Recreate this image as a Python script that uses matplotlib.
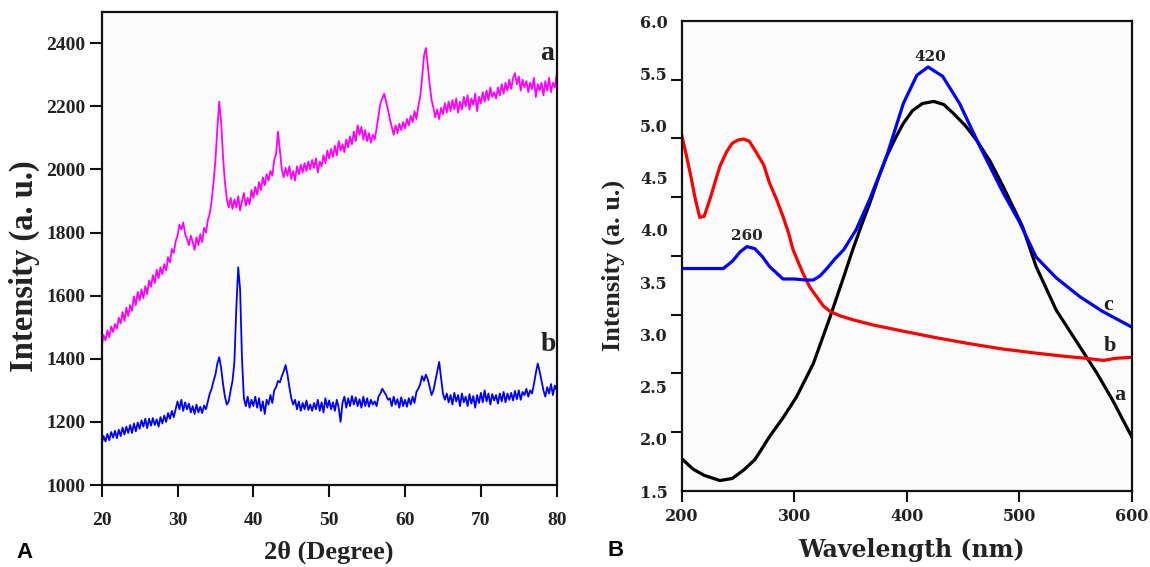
import numpy as np
import matplotlib
matplotlib.use("Agg")
import matplotlib.pyplot as plt
from matplotlib.ticker import FixedLocator

# ---------------- data: panel A (XRD) ----------------
two_theta = np.arange(20.0, 80.01, 0.25)

xrd_a = [
    1440, 1475, 1458, 1490, 1468, 1502, 1485, 1510,
    1495, 1530, 1512, 1548, 1520, 1562, 1535, 1570,
    1552, 1598, 1570, 1612, 1585, 1620, 1592, 1630,
    1605, 1648, 1628, 1665, 1640, 1682, 1655, 1690,
    1668, 1700, 1680, 1722, 1705, 1748, 1735, 1772,
    1790, 1825, 1810, 1832, 1795, 1780, 1760, 1790,
    1770, 1745, 1785, 1760, 1795, 1770, 1815, 1800,
    1840, 1860, 1900, 1960, 2030, 2130, 2215, 2150,
    2040, 1960, 1905, 1880, 1910, 1875, 1905, 1880,
    1915, 1870, 1900, 1925, 1885, 1910, 1890, 1935,
    1910, 1945, 1920, 1960, 1935, 1975, 1950, 1985,
    1965, 1995, 1980, 2030, 2050, 2120, 2060, 2000,
    1975, 2005, 1980, 2010, 1970, 1995, 1965, 2010,
    1985, 2015, 1990, 2020, 1995, 2025, 2000, 2030,
    2005, 2035, 1990, 2025, 2010, 2045, 2020, 2060,
    2035, 2065, 2040, 2075, 2045, 2090, 2060, 2080,
    2055, 2095, 2070, 2105, 2080, 2120, 2090, 2140,
    2110, 2135, 2095, 2125, 2090, 2115, 2085, 2110,
    2095, 2130, 2170, 2210, 2225, 2240, 2215, 2190,
    2160, 2135, 2110, 2140, 2115, 2145, 2125, 2150,
    2130, 2160, 2140, 2170, 2150, 2185, 2160, 2200,
    2230, 2290, 2360, 2385, 2330, 2270, 2220, 2195,
    2165, 2190, 2160, 2195, 2175, 2210, 2180, 2215,
    2185, 2220, 2190, 2225, 2180, 2215, 2190, 2230,
    2200, 2235, 2190, 2225, 2205, 2240, 2185, 2230,
    2210, 2245, 2215, 2250, 2220, 2260, 2230, 2245,
    2225, 2260, 2235, 2270, 2240, 2275, 2250, 2285,
    2255, 2290, 2305, 2270, 2295, 2250, 2285, 2260,
    2280, 2245, 2275, 2255, 2290, 2230, 2270, 2250,
    2275, 2235, 2280, 2250, 2290, 2245, 2275, 2260,
    2300,
]

xrd_b = [
    1130, 1155, 1138, 1162, 1142, 1168, 1150, 1172,
    1148, 1175, 1155, 1182, 1160, 1185, 1165, 1190,
    1165, 1195, 1170, 1198, 1178, 1205, 1185, 1210,
    1180, 1210, 1188, 1212, 1190, 1208, 1185, 1215,
    1195, 1220, 1200, 1228, 1210, 1235, 1215, 1240,
    1265, 1240, 1270, 1235, 1262, 1240, 1258, 1230,
    1250, 1225, 1255, 1230, 1248, 1228, 1252, 1240,
    1265, 1290, 1305, 1330, 1350, 1385, 1405, 1370,
    1320, 1280, 1255, 1265, 1300, 1330, 1390, 1560,
    1690, 1620, 1400, 1275, 1250, 1280, 1245, 1270,
    1250, 1280, 1245, 1275, 1235, 1265, 1225, 1270,
    1255, 1285, 1260, 1300, 1310, 1330, 1325, 1345,
    1360, 1380, 1350, 1310, 1275, 1255, 1270, 1240,
    1265, 1235, 1260, 1240, 1268, 1238, 1255, 1235,
    1260, 1240, 1270, 1235, 1262, 1230, 1275, 1245,
    1268, 1240, 1262, 1235, 1270, 1245, 1200, 1260,
    1280, 1245, 1275, 1250, 1282, 1255, 1278, 1250,
    1272, 1245, 1280, 1250, 1275, 1248, 1270, 1255,
    1265, 1250, 1280, 1290, 1305, 1295, 1285, 1270,
    1275, 1250, 1280, 1255, 1272, 1245, 1278, 1250,
    1270, 1248, 1275, 1255, 1280, 1260, 1295, 1305,
    1320, 1345, 1330, 1350, 1335, 1310, 1285, 1300,
    1330, 1360, 1390, 1340, 1290, 1270, 1290, 1262,
    1285, 1255, 1292, 1265, 1285, 1250, 1290, 1262,
    1280, 1250, 1288, 1258, 1282, 1245, 1285, 1260,
    1292, 1262, 1300, 1265, 1290, 1255, 1288, 1268,
    1285, 1258, 1290, 1265, 1295, 1262, 1290, 1270,
    1292, 1268, 1298, 1272, 1300, 1270, 1295, 1285,
    1305, 1280, 1300, 1290, 1320, 1355, 1385, 1360,
    1330, 1300, 1280, 1310, 1290, 1320, 1285, 1315,
    1300,
]

xrd_xticks = [20, 30, 40, 50, 60, 70, 80]
xrd_yticks = [1000, 1200, 1400, 1600, 1800, 2000, 2200, 2400]

# ---------------- data: panel B (UV-vis) ----------------
wl_a = [200, 210, 220, 234, 245, 255, 265, 271, 278, 290, 302, 317, 332, 344,
        352, 360, 367, 375, 382, 390, 397, 405, 414, 424, 433, 441, 452, 462,
        474, 486, 503, 515, 533, 554, 569, 583, 600]
uv_a = [1.81, 1.71, 1.65, 1.60, 1.62, 1.70, 1.80, 1.90, 2.02, 2.20, 2.40, 2.72,
        3.17, 3.55, 3.81, 4.05, 4.25, 4.50, 4.70, 4.88, 5.02, 5.14, 5.21, 5.23,
        5.20, 5.12, 5.00, 4.86, 4.66, 4.41, 4.03, 3.65, 3.23, 2.88, 2.63, 2.37,
        2.02]

wl_c = [200, 212, 225, 237, 245, 252, 258, 265, 272, 278, 285, 290, 300, 310,
        317, 323, 329, 336, 344, 355, 367, 382, 397, 409, 419, 432, 447, 465,
        486, 500, 515, 533, 554, 574, 600]
uv_c = [3.63, 3.63, 3.63, 3.63, 3.70, 3.79, 3.84, 3.82, 3.74, 3.65, 3.58, 3.53,
        3.53, 3.52, 3.52, 3.56, 3.63, 3.72, 3.81, 4.00, 4.29, 4.70, 5.21, 5.48,
        5.56, 5.47, 5.21, 4.80, 4.35, 4.08, 3.74, 3.54, 3.36, 3.22, 3.07]

wl_b = [200, 204, 208, 212, 216, 220, 225, 230, 234, 240, 245, 250, 255, 260,
        267, 273, 278, 284, 290, 295, 299, 304, 308, 314, 320, 326, 332, 340,
        352, 370, 397, 425, 456, 485, 515, 540, 560, 575, 585, 600]
uv_b = [4.91, 4.72, 4.52, 4.30, 4.12, 4.13, 4.29, 4.47, 4.61, 4.75, 4.83, 4.86,
        4.87, 4.85, 4.73, 4.62, 4.45, 4.30, 4.13, 3.97, 3.81, 3.68, 3.58, 3.45,
        3.36, 3.27, 3.22, 3.18, 3.14, 3.09, 3.03, 2.97, 2.91, 2.86, 2.82, 2.79,
        2.77, 2.75, 2.77, 2.78]

uv_xticks = [200, 300, 400, 500, 600]
uv_yticks = [1.5, 2.0, 2.5, 3.0, 3.5, 4.0, 4.5, 5.0, 5.5, 6.0]
uv_yticklabels = ["1.5", "2.0", "2.5", "3.0", "3.5", "4.0", "4.5", "5.0", "5.5", "6.0"]
uv_tickmarks = list(np.linspace(1.5, 6.0, 9))

# ---------------- figure ----------------
W, H = 1150, 567
fig = plt.figure(figsize=(W / 100, H / 100), dpi=100)

serif_n = "Liberation Serif"
serif_w = "DejaVu Serif"

axA = fig.add_axes([101.7 / W, (H - 485) / H, 455 / W, 473.3 / H])
axB = fig.add_axes([681.7 / W, (H - 491) / H, 450 / W, 470 / H])

for ax in (axA, axB):
    ax.set_facecolor("#fbfbfb")
    for sp in ax.spines.values():
        sp.set_linewidth(1.6)
        sp.set_color("#111111")

# ---- panel A
axA.plot(two_theta, xrd_a, color="#ff00ff", lw=1.3)
axA.plot(two_theta, xrd_b, color="#0000ff", lw=1.3)
axA.set_xlim(20, 80)
axA.set_ylim(1000, 2500)
axA.set_xticks(xrd_xticks)
axA.set_yticks(xrd_yticks)
axA.tick_params(axis="both", direction="out", length=8.5, width=1.5, color="#111111")
axA.tick_params(axis="x", pad=11)
axA.tick_params(axis="y", pad=3)
for lab in axA.get_xticklabels() + axA.get_yticklabels():
    lab.set_fontfamily(serif_n)
    lab.set_fontweight("bold")
    lab.set_fontsize(14)
    lab.set_color("#222222")

axA.set_xlabel("2θ (Degree)", fontfamily=serif_n, fontweight="bold", fontsize=19, color="#222222")
axA.xaxis.set_label_coords(0.5, -0.1416)
axA.xaxis.label.set_va("center")
axA.set_ylabel("Intensity (a. u.)", fontfamily=serif_n, fontweight="bold", fontsize=23.5, color="#222222")
axA.yaxis.set_label_coords(-0.171, 0.463)
axA.yaxis.label.set_va("center")

axA.text(78.7, 2368, "a", fontfamily=serif_n, fontweight="bold", fontsize=20,
         ha="center", va="center", color="#222222")
axA.text(78.9, 1444, "b", fontfamily=serif_n, fontweight="bold", fontsize=20,
         ha="center", va="center", color="#222222")

# ---- panel B
axB.plot(wl_a, uv_a, color="#000000", lw=2.3)
axB.plot(wl_b, uv_b, color="#ff0000", lw=2.3)
axB.plot(wl_c, uv_c, color="#0000ff", lw=2.3)
axB.set_xlim(200, 600)
axB.set_ylim(1.5, 6.0)
axB.set_xticks(uv_xticks)
axB.set_yticks(uv_yticks)
axB.set_yticklabels(uv_yticklabels)
axB.yaxis.set_minor_locator(FixedLocator(uv_tickmarks))
axB.tick_params(axis="x", direction="out", length=8, width=1.5, pad=4, color="#111111")
axB.tick_params(axis="y", which="major", length=0, pad=10)
axB.tick_params(axis="y", which="minor", direction="out", length=8, width=1.5, color="#111111")
for lab in axB.get_xticklabels() + axB.get_yticklabels():
    lab.set_fontfamily(serif_w)
    lab.set_fontweight("bold")
    lab.set_fontsize(11.5)
    lab.set_color("#222222")

axB.set_xlabel("Wavelength (nm)", fontfamily=serif_w, fontweight="bold", fontsize=17, color="#222222")
axB.xaxis.set_label_coords(0.511, -0.1245)
axB.xaxis.label.set_va("center")
axB.set_ylabel("Intensity (a. u.)", fontfamily=serif_n, fontweight="bold", fontsize=19, color="#222222")
axB.yaxis.set_label_coords(-0.153, 0.479)
axB.yaxis.label.set_va("center")

axB.text(420.9, 5.66, "420", fontfamily=serif_w, fontweight="bold", fontsize=11,
         ha="center", va="center", color="#222222")
axB.text(257.7, 3.94, "260", fontfamily=serif_w, fontweight="bold", fontsize=11,
         ha="center", va="center", color="#222222")
axB.text(579, 3.28, "c", fontfamily=serif_n, fontweight="bold", fontsize=16,
         ha="center", va="center", color="#222222")
axB.text(581, 2.89, "b", fontfamily=serif_n, fontweight="bold", fontsize=16,
         ha="center", va="center", color="#222222")
axB.text(589.3, 2.42, "a", fontfamily=serif_n, fontweight="bold", fontsize=16,
         ha="center", va="center", color="#222222")

# ---- panel letters
fig.text(24 / W, 1 - 552 / H, "A", fontfamily="Liberation Sans", fontweight="bold",
         fontsize=16, ha="center", va="center")
fig.text(616 / W, 1 - 551 / H, "B", fontfamily="Liberation Sans", fontweight="bold",
         fontsize=16, ha="center", va="center")

fig.savefig("out.png", dpi=100, facecolor="white")
